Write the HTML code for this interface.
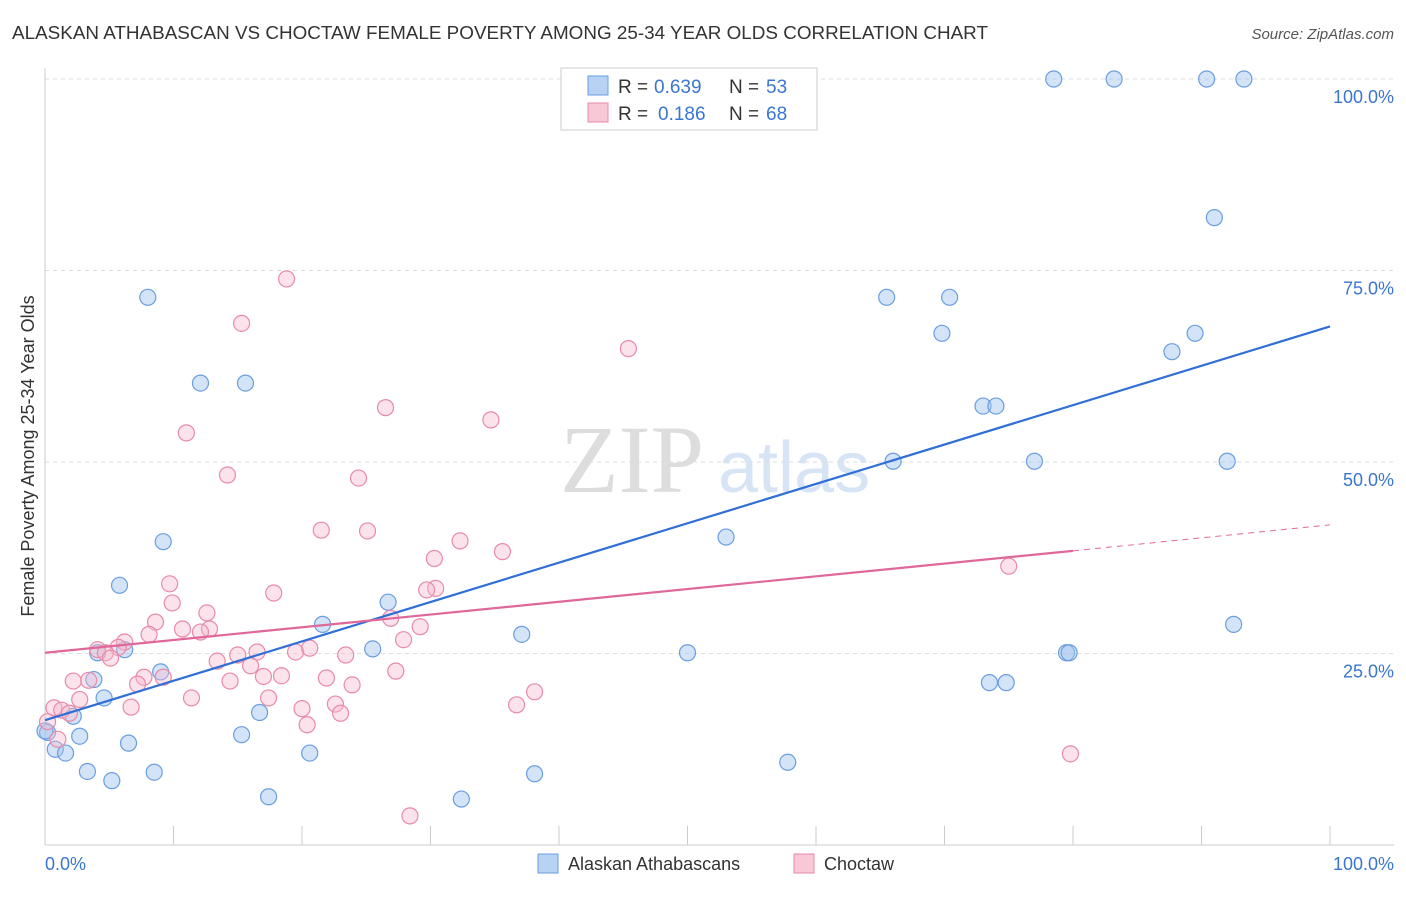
<!DOCTYPE html>
<html><head><meta charset="utf-8"><style>
body{margin:0;background:#fff;font-family:"Liberation Sans",sans-serif;}
</style></head><body>
<svg id="c" width="1406" height="892" xmlns="http://www.w3.org/2000/svg">
<text x="12" y="39" font-size="18" fill="#333" textLength="976" lengthAdjust="spacingAndGlyphs">ALASKAN ATHABASCAN VS CHOCTAW FEMALE POVERTY AMONG 25-34 YEAR OLDS CORRELATION CHART</text>
<text x="1394" y="39" font-size="15" fill="#555" text-anchor="end" font-style="italic">Source: ZipAtlas.com</text>
<text x="560" y="492" font-size="96" fill="#ddd" font-family="Liberation Serif">ZIP</text>
<text x="718" y="492" font-size="72" fill="#d6e4f5">atlas</text>
<g id="grid"></g><g id="pts"></g>
<text transform="translate(34,456) rotate(-90)" font-size="18" fill="#333" text-anchor="middle">Female Poverty Among 25-34 Year Olds</text>
<text x="45" y="870" font-size="18" fill="#3a76d0">0.0%</text>
<text x="1394" y="870" font-size="18" fill="#3a76d0" text-anchor="end">100.0%</text>
<g>
<rect x="561" y="68" width="256" height="62" fill="#fff" stroke="#ccc"/>
<rect x="588" y="76" width="20" height="19" fill="#b8d2f4" stroke="#6a9ee0"/>
<text x="618" y="93" font-size="19" fill="#333">R =</text>
<text x="654" y="93" font-size="19" fill="#3a76d0">0.639</text>
<text x="729" y="93" font-size="19" fill="#333">N =</text>
<text x="766" y="93" font-size="19" fill="#3a76d0">53</text>
<rect x="588" y="103" width="20" height="19" fill="#f9c8d6" stroke="#e88aa8"/>
<text x="618" y="120" font-size="19" fill="#333">R =</text>
<text x="658" y="120" font-size="19" fill="#3a76d0">0.186</text>
<text x="729" y="120" font-size="19" fill="#333">N =</text>
<text x="766" y="120" font-size="19" fill="#3a76d0">68</text>
</g>
<g>
<rect x="538" y="854" width="20" height="19" fill="#b8d2f4" stroke="#6a9ee0"/>
<text x="568" y="870" font-size="18" fill="#333">Alaskan Athabascans</text>
<rect x="794" y="854" width="20" height="19" fill="#f9c8d6" stroke="#e88aa8"/>
<text x="824" y="870" font-size="18" fill="#333">Choctaw</text>
</g>
</svg>
<script>
const yTicks=[25,50,75,100];
const yTickLabels=["25.0%","50.0%","75.0%","100.0%"];
const blueX=[78.5,83.2,90.4,93.3,91,65.5,70.4,69.8,89.5,87.7,73,74,66,77,92,53,92.5,79.5,79.7,50,73.5,74.8,57.8,8,12.1,15.6,9.2,5.8,4.1,6.2,3.8,9,4.6,26.7,21.6,25.5,37.1,16.7,15.3,6.5,2.2,2.7,0.2,0.8,1.6,3.3,5.2,8.5,20.6,17.4,32.4,38.1,0];
const blueY=[100,100,100,100,81.9,71.5,71.5,66.8,66.8,64.4,57.3,57.3,50.1,50.1,50.1,40.2,28.8,25.1,25.1,25.1,21.2,21.2,10.8,71.5,60.3,60.3,39.6,33.9,25.1,25.5,21.6,22.6,19.2,31.7,28.8,25.6,27.5,17.3,14.4,13.3,16.8,14.2,14.7,12.5,12,9.6,8.4,9.5,12,6.3,6,9.3,14.9];
const pinkX=[18.8,15.3,45.4,11,26.5,34.7,14.2,24.4,21.5,25.1,32.3,35.6,30.3,75,9.7,17.8,9.9,30.4,29.7,12.6,8.6,26.9,8.1,10.7,12.8,12.1,29.2,27.9,6.2,4.1,5.7,4.7,5.1,13.4,15,16.5,19.5,20.6,23.4,16,7.7,9.2,27.3,3.4,2.2,17,18.4,21.9,14.4,23.9,7.2,2.7,11.4,17.4,38.1,6.7,20,22.6,0.7,1.3,1.9,23,20.4,36.7,79.8,28.4,0.2,1];
const pinkY=[73.9,68.1,64.8,53.8,57.1,55.5,48.3,47.9,41.1,41,39.7,38.3,37.4,36.4,34.1,32.9,31.6,33.5,33.3,30.3,29.1,29.6,27.5,28.2,28.2,27.8,28.5,26.8,26.5,25.5,25.8,25.1,24.4,24,24.8,25.2,25.2,25.7,24.8,23.4,21.9,21.9,22.7,21.5,21.4,22,22.1,21.8,21.4,20.9,21,19,19.2,19.2,20,18,17.8,18.4,17.9,17.6,17.2,17.2,15.7,18.3,11.9,3.8,16.1,13.8];
const blueLine=[16.3,67.7], pinkLine=[25.1,38.4,41.8];
const X=v=>45+v*12.85, Y=v=>845-v*7.66;
const ns="http://www.w3.org/2000/svg", svg=document.getElementById('c');
const g=document.getElementById('grid'), P=document.getElementById('pts');
function mk(t,a,par){const e=document.createElementNS(ns,t);for(const k in a)e.setAttribute(k,a[k]);par.appendChild(e);return e;}
yTicks.forEach((t,i)=>{
 const l=mk('line',{x1:45,x2:1394,y1:Y(t),y2:Y(t),stroke:'#ddd','stroke-dasharray':'4,4'},g);
 
 
 const tx=mk('text',{x:1394,y:Y(t)+24,'font-size':18,fill:'#3a76d0','text-anchor':'end'},svg);
 tx.textContent=yTickLabels[i];
 
 
});
const ax=mk('line',{x1:45,x2:1394,y1:845,y2:845,stroke:'#ccc'},g);


const ay=mk('line',{x1:45,x2:45,y1:68,y2:845,stroke:'#ccc'},g);


for(let i=0;i<=10;i++){const tk=mk('line',{x1:X(i*10),x2:X(i*10),y1:826,y2:845,stroke:'#ccc'},g);
 
 }
blueX.forEach((v,i)=>{const c=mk('circle',{cx:X(v),cy:Y(blueY[i]),r:8,fill:'rgba(160,195,240,0.45)',stroke:'#6a9ee0','stroke-width':1.2},P);
 
 });
pinkX.forEach((v,i)=>{const c=mk('circle',{cx:X(v),cy:Y(pinkY[i]),r:8,fill:'rgba(248,185,205,0.4)',stroke:'#e88aa8','stroke-width':1.2},P);
 
 });
const bl=mk('line',{x1:X(0),y1:Y(blueLine[0]),x2:X(100),y2:Y(blueLine[1]),stroke:'#2f6fd6','stroke-width':2.2},P);


const pl=mk('line',{x1:X(0),y1:Y(pinkLine[0]),x2:X(80),y2:Y(pinkLine[1]),stroke:'#e0679a','stroke-width':2.2},P);


const pd=mk('line',{x1:X(80),y1:Y(pinkLine[1]),x2:X(100),y2:Y(pinkLine[2]),stroke:'#e0679a','stroke-width':1,'stroke-dasharray':'6,5'},P);


</script>
</body></html>
